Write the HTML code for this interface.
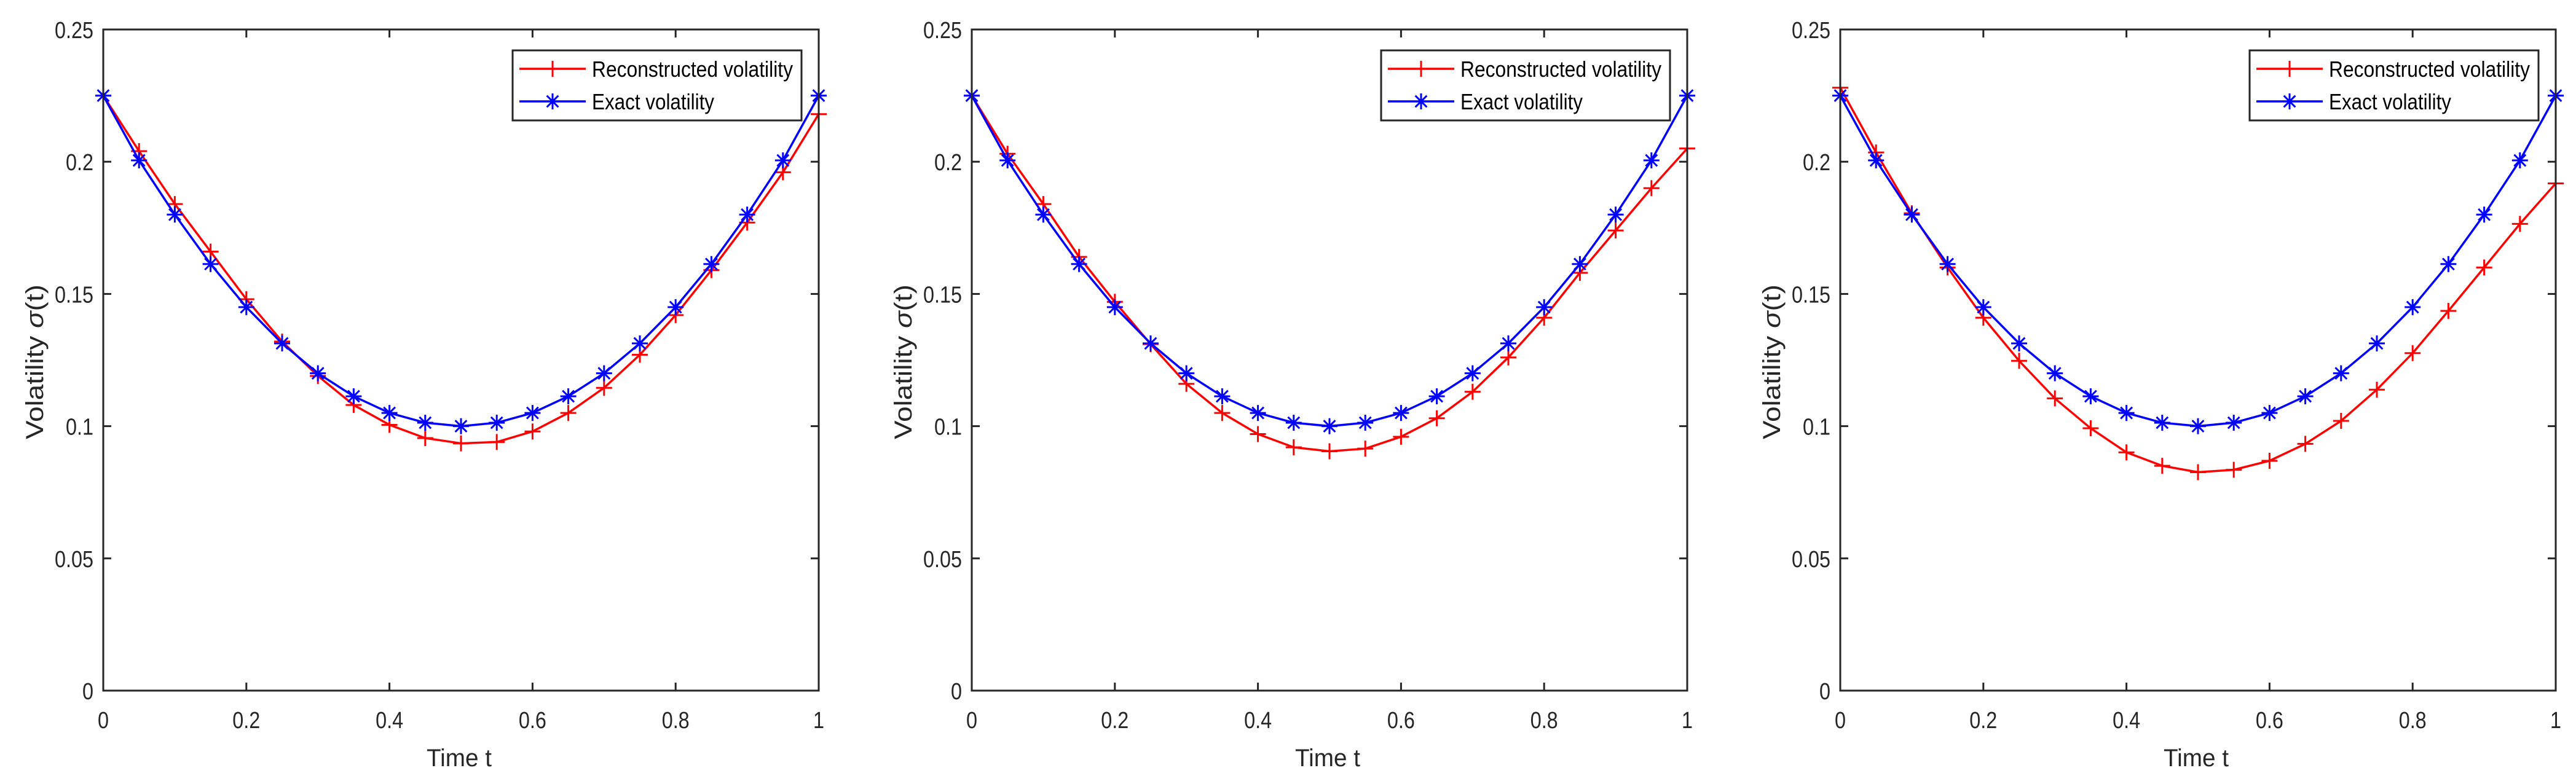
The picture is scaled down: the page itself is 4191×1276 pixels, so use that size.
<!DOCTYPE html>
<html><head><meta charset="utf-8"><style>
html,body{margin:0;padding:0;background:#fff;}
svg{display:block;}
</style></head><body>
<svg id="fig" width="4191" height="1276" viewBox="0 0 4191 1276" xmlns="http://www.w3.org/2000/svg" font-family="'Liberation Sans', sans-serif"></svg>
<script>
const tValues = [0,0.05,0.1,0.15,0.2,0.25,0.3,0.35,0.4,0.45,0.5,0.55,0.6,0.65,0.7,0.75,0.8,0.85,0.9,0.95,1];
const exactValues = [0.225,0.2005,0.18,0.1613,0.145,0.1313,0.12,0.1113,0.105,0.1013,0.1,0.1013,0.105,0.1113,0.12,0.1313,0.145,0.1613,0.18,0.2005,0.225];
const recon1 = [0.225,0.204,0.184,0.166,0.148,0.132,0.119,0.108,0.1005,0.0955,0.0935,0.094,0.098,0.105,0.1145,0.127,0.142,0.159,0.177,0.196,0.218];
const recon2 = [0.225,0.203,0.184,0.164,0.147,0.131,0.116,0.105,0.097,0.092,0.0905,0.0915,0.096,0.103,0.113,0.126,0.141,0.158,0.174,0.19,0.205];
const recon3 = [0.228,0.2035,0.1805,0.16,0.141,0.1247,0.1105,0.0992,0.0901,0.085,0.0826,0.0835,0.0869,0.0933,0.102,0.1138,0.1276,0.1436,0.16,0.1765,0.1918];
const xTicks = [0,0.2,0.4,0.6,0.8,1];
const xTickLabels = ["0","0.2","0.4","0.6","0.8","1"];
const yTicks = [0,0.05,0.1,0.15,0.2,0.25];
const yTickLabels = ["0","0.05","0.1","0.15","0.2","0.25"];
const reconSeries = [recon1, recon2, recon3];

const NS = "http://www.w3.org/2000/svg";
const svg = document.getElementById('fig');
function mk(tag, attrs, parent){
  const e = document.createElementNS(NS, tag);
  for (const k in attrs) e.setAttribute(k, attrs[k]);
  (parent||svg).appendChild(e);
  return e;
}
function labelWidth(s){ let w=0; for(const c of s) w += (c==='.')?9:18; return w; }

const panelLefts = [168,1581,2994];
const PW = 1164, TOP = 48, BOT = 1124;

panelLefts.forEach((L, pi) => {
  const g = mk('g', {});
  
  
  const xs = v => L + v * PW;
  const ys = v => BOT - (v / 0.25) * (BOT - TOP);

  xTicks.forEach((v, i) => {
    const x = xs(v);
    mk('line', {x1:x, y1:BOT, x2:x, y2:BOT-13, stroke:'#262626','stroke-width':3}, g);
    mk('line', {x1:x, y1:TOP, x2:x, y2:TOP+13, stroke:'#262626','stroke-width':3}, g);
    const t = mk('text', {x:x, y:1185, 'font-size':38, fill:'#262626', 'text-anchor':'middle', textLength:labelWidth(xTickLabels[i]), lengthAdjust:'spacingAndGlyphs'}, g);
    t.textContent = xTickLabels[i];
    
    
  });
  yTicks.forEach((v, i) => {
    const y = ys(v);
    mk('line', {x1:L, y1:y, x2:L+13, y2:y, stroke:'#262626','stroke-width':3}, g);
    mk('line', {x1:L+PW, y1:y, x2:L+PW-13, y2:y, stroke:'#262626','stroke-width':3}, g);
    const t = mk('text', {x:L-16, y:y+14, 'font-size':38, fill:'#262626', 'text-anchor':'end', textLength:labelWidth(yTickLabels[i]), lengthAdjust:'spacingAndGlyphs'}, g);
    t.textContent = yTickLabels[i];
    
    
  });

  function drawSeries(vals, color, marker, name){
    const pts = tValues.map((tv, i) => xs(tv) + ',' + ys(vals[i])).join(' ');
    const pl = mk('polyline', {points:pts, fill:'none', stroke:color, 'stroke-width':3.5, 'stroke-linejoin':'round'}, g);
    
    
    tValues.forEach((tv, i) => {
      const cx = xs(tv), cy = ys(vals[i]);
      const m = mk('path', {d: markerPath(marker, cx, cy), stroke:color, 'stroke-width':3, fill:'none'}, g);
      
      
    });
  }
  drawSeries(reconSeries[pi], '#ff0000', 'plus', 'reconstructed');
  drawSeries(exactValues, '#0000ff', 'star', 'exact');

  const box = mk('rect', {x:L, y:TOP, width:PW, height:BOT-TOP, fill:'none', stroke:'#262626', 'stroke-width':3}, g);
  
  

  const xl = mk('text', {x:L+PW/2-3, y:1247, 'font-size':40, fill:'#262626', 'text-anchor':'middle', textLength:106, lengthAdjust:'spacingAndGlyphs'}, g);
  xl.textContent = 'Time t';
  
  
  const yl = mk('text', {x:0, y:0, 'font-size':40, fill:'#262626', 'text-anchor':'middle', textLength:252, lengthAdjust:'spacingAndGlyphs', transform:'translate(' + (L-98) + ',589) rotate(-90)'}, g);
  
  
  yl.appendChild(document.createTextNode('Volatility '));
  const ts = mk('tspan', {'font-style':'italic'}, yl); ts.textContent = 'σ';
  yl.appendChild(document.createTextNode('(t)'));

  const LX = L + PW - 28 - 470;
  const lg = mk('g', {}, g);
  
  
  mk('rect', {x:LX, y:82, width:470, height:114, fill:'#fff', stroke:'#262626', 'stroke-width':3}, lg);
  const rows = [['Reconstructed volatility','#ff0000','plus',112,327],['Exact volatility','#0000ff','star',165,199]];
  rows.forEach(r => {
    const e = mk('g', {}, lg);
    
    
    mk('line', {x1:LX+11, y1:r[3], x2:LX+119, y2:r[3], stroke:r[1], 'stroke-width':3.5}, e);
    mk('path', {d: markerPath(r[2], LX+65, r[3]), stroke:r[1], 'stroke-width':3, fill:'none'}, e);
    const tx = mk('text', {x:LX+129, y:r[3]+13, 'font-size':36, fill:'#000', textLength:r[4], lengthAdjust:'spacingAndGlyphs'}, e);
    tx.textContent = r[0];
  });
});

function markerPath(type, x, y){
  const s = 13;
  if (type === 'plus') return `M${x-s},${y}H${x+s}M${x},${y-s}V${y+s}`;
  const d = s*0.72;
  return `M${x-s},${y}H${x+s}M${x},${y-s}V${y+s}M${x-d},${y-d}L${x+d},${y+d}M${x-d},${y+d}L${x+d},${y-d}`;
}
</script>
</body></html>
